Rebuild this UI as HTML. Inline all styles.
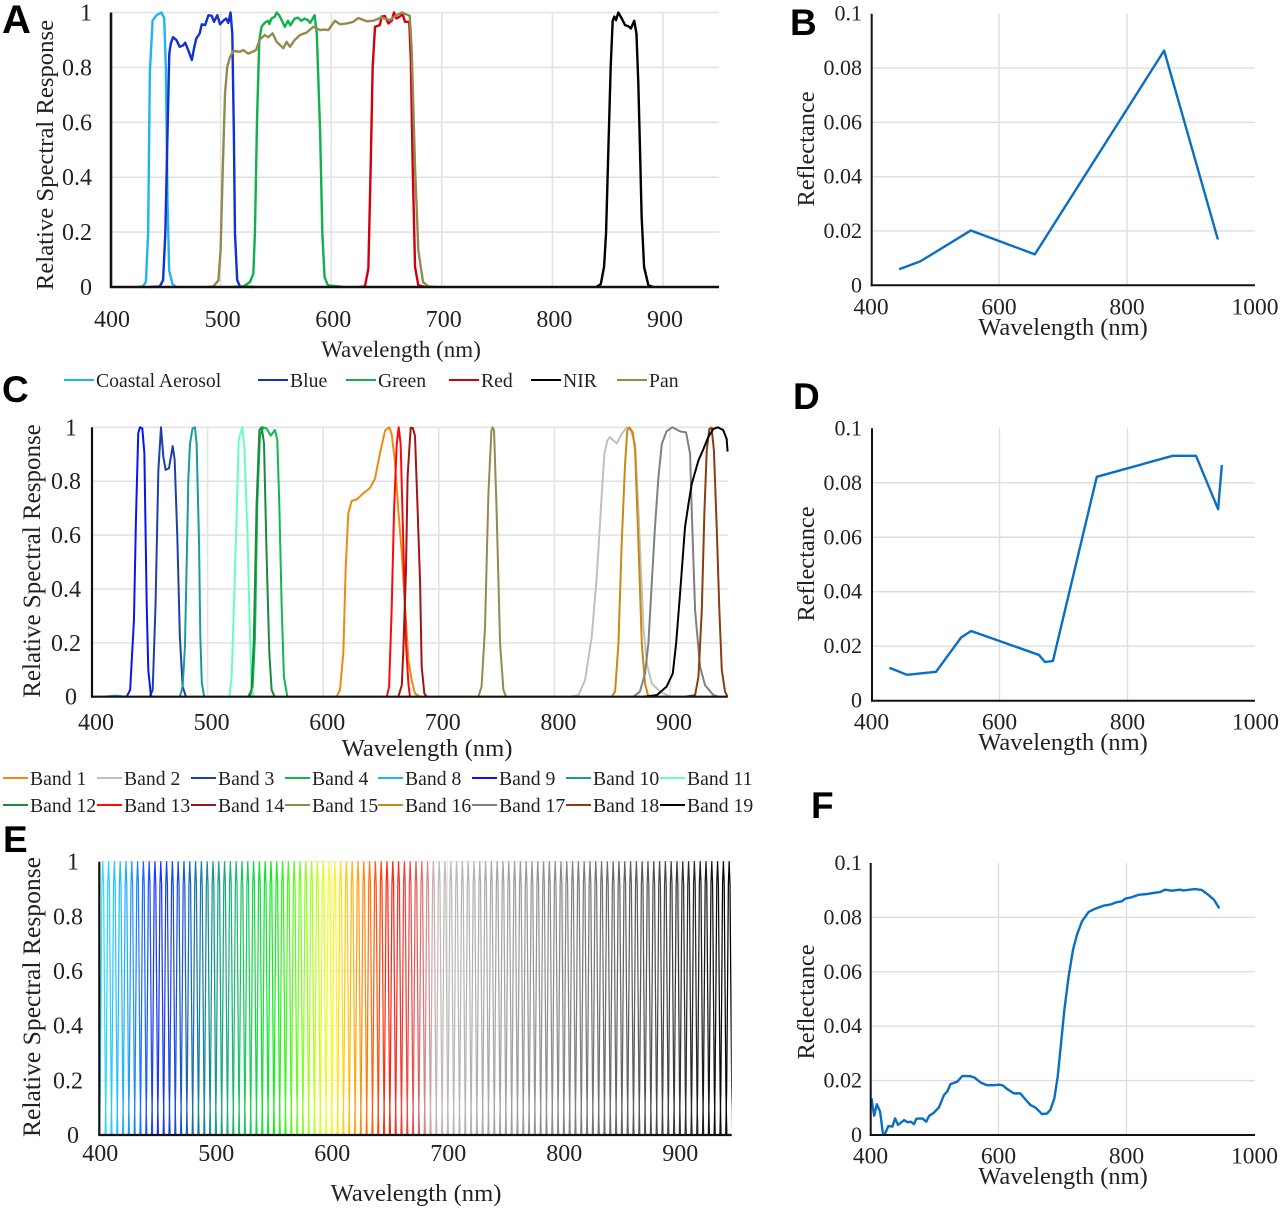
<!DOCTYPE html>
<html lang="en">
<head>
<meta charset="utf-8">
<title>Relative spectral response and reflectance panels</title>
<style>
html,body{margin:0;padding:0;background:#fff;}
svg{display:block;filter:blur(.35px);}
text{font-family:"Liberation Serif",serif;fill:#222;}
.letter{font-family:"Liberation Sans",sans-serif;font-weight:bold;font-size:37px;fill:#000;}
.leg{font-size:19.7px;}
.title{font-size:23px;}
.ty{font-size:24.7px;}
.tc{font-size:24.6px;}
.te{font-size:25.6px;}
.tx{font-size:24.4px;}
</style>
</head>
<body>
<svg id="figure" xmlns="http://www.w3.org/2000/svg" width="1280" height="1210" viewBox="0 0 1280 1210">
  <rect x="0" y="0" width="1280" height="1210" fill="#fff"/>
  <g id="plots"></g>

  <text class="letter" style="font-size:40px" x="2" y="33">A</text>
  <text class="letter" x="790" y="35">B</text>
  <text class="letter" x="2" y="402">C</text>
  <text class="letter" x="793" y="409">D</text>
  <text class="letter" x="3" y="852">E</text>
  <text class="letter" x="811" y="818">F</text>

  <text class="ty" text-anchor="middle" transform="translate(53,155) rotate(-90)">Relative Spectral Response</text>
  <text class="title" text-anchor="middle" x="401" y="357">Wavelength (nm)</text>
  <text class="tx" text-anchor="middle" transform="translate(814,149) rotate(-90)">Reflectance</text>
  <text class="tx" text-anchor="middle" x="1063" y="335">Wavelength (nm)</text>
  <text class="te" style="font-size:25px" text-anchor="middle" transform="translate(40,561) rotate(-90)">Relative Spectral Response</text>
  <text class="tc" text-anchor="middle" x="427" y="756">Wavelength (nm)</text>
  <text class="tx" text-anchor="middle" transform="translate(814,564) rotate(-90)">Reflectance</text>
  <text class="tx" text-anchor="middle" x="1063" y="750">Wavelength (nm)</text>
  <text class="te" text-anchor="middle" transform="translate(40,997) rotate(-90)">Relative Spectral Response</text>
  <text class="tc" text-anchor="middle" x="416" y="1201">Wavelength (nm)</text>
  <text class="tx" text-anchor="middle" transform="translate(814,1002) rotate(-90)">Reflectance</text>
  <text class="tx" text-anchor="middle" x="1063" y="1184">Wavelength (nm)</text>

  <g id="legends"></g>
</svg>
<script>
// ---------- Panel A: sensor bands (wavelength in nm, relative response) ----------
const aCoastalWl = [426,430,432.5,434.5,436,438.5,442,446.5,449,450.5,452,453.5,456.5,460];
const aCoastalVal = [0,.003,.02,.2,.78,.97,.99,1,.98,.8,.31,.06,.01,0];
const aBlueWl = [436,445,448,450,452,453.6,455,457,460,463,466,468,471,474,476,478,481,483,486,489,492,494,497,499.5,502.5,505,507,509,510.6,512,513,515,517.5,530];
const aBlueVal = [0,.002,.025,.195,.56,.85,.887,.91,.9,.875,.88,.89,.86,.827,.87,.905,.923,.957,.954,.99,.988,.966,.99,.957,.97,.978,.962,1,.923,.56,.195,.025,.002,0];
const aGreenWl = [511.5,520.5,526.6,529.6,531,533,535,537,540,543,544,546,549,550.7,553,556,558,561,563,567,570,573,576,579,581,585,587,588,590,592,594,597,611];
const aGreenVal = [0,.002,.018,.049,.195,.62,.9,.948,.963,.97,.958,.978,.985,1,.99,.966,.948,.97,.953,.978,.981,.97,.978,.972,.962,.99,.923,.8,.56,.195,.036,.006,0];
const aRedWl = [625.4,630.5,633.6,635.7,637.5,639.6,644,645.6,648.6,651.7,654.7,656.8,659,662,664.6,666.7,670.6,672,673.7,675.8,678.8,684.8];
const aRedVal = [0,.002,.067,.437,.802,.948,.954,.985,.987,.96,.97,1,.978,.985,.994,.966,.966,.826,.437,.073,.006,0];
const aNirWl = [839.5,843.7,846.7,848.5,850.6,852.7,854.5,856,857.5,859.6,862.7,865.7,868.7,871,874,876,877.7,879.2,880.7,882.9,886.8,891.3];
const aNirVal = [0,.01,.073,.195,.5,.802,.97,.985,.972,1,.978,.954,.95,.942,.97,.923,.74,.5,.255,.073,.006,0];
const aPanWl = [488,493.4,498,500,502,504,506,508.5,511.5,517.5,520.5,525,532,535.6,540,543,547,550.7,556.7,559.7,562.7,567,571.8,577.8,583.8,590,594.4,597.4,603.4,608,614,620,624.5,632,638,645.6,653,659,663.7,671,672.8,675.8,678.8,683,687.8,693.9];
const aPanVal = [0,.002,.024,.134,.437,.705,.802,.838,.86,.857,.863,.85,.863,.902,.918,.91,.924,.893,.87,.893,.875,.9,.918,.927,.948,.936,.938,.936,.97,.957,.96,.966,.98,.968,.97,.982,.972,.99,1,.988,.863,.437,.134,.018,.002,0];

// ---------- Panel C: sensor bands ----------
const cBand8Wl = [410,420,430];
const cBand8Val = [0,.004,0];
const cBand9Wl = [430,433,436.3,438,440,441.5,443.5,445.3,447.3,448.7,451,453];
const cBand9Val = [0,.025,.285,.656,.978,1,.996,.904,.347,.099,.002,0];
const cBand3Wl = [450,452.5,455,457.4,459.7,461.7,463.7,466.6,469.8,471.5,473.8,476,478.4,481.3];
const cBand3Val = [0,.025,.347,.84,1,.891,.842,.848,.93,.88,.594,.223,.037,0];
const cBand10Wl = [476,478.4,480.4,481.3,482.5,483.3,484.8,487,489,490.5,492.6,493.7,495,497];
const cBand10Val = [0,.037,.186,.371,.619,.804,.94,.996,1,.94,.569,.223,.05,.002];
const cBand11Wl = [518.8,520.8,523,525,526.9,530,531.8,534.4,536.7,538,540];
const cBand11Val = [0,.074,.371,.656,.953,1,.928,.619,.223,.037,0];
const cBand12Wl = [535.2,538,540,542.4,544.8,546.8,548.8,551,553.4,555.4,558];
const cBand12Val = [0,.025,.21,.718,.99,1,.94,.532,.16,.025,0];
const cBand4Wl = [536.7,539,541,543,545.3,548.2,551,554.6,558.3,560.3,562,564,566,569];
const cBand4Val = [0,.037,.223,.718,.97,1,.996,.969,.99,.953,.718,.347,.074,0];
const cBand1Wl = [611.6,614.5,617.4,619.4,621.7,624.6,629,634.7,640.5,644.8,649,653.5,657.2,659.2,662,665,668,670.8,673.7,676.5,679.4,683.8];
const cBand1Val = [0,.025,.161,.47,.68,.727,.732,.755,.775,.809,.901,.988,1,.975,.877,.691,.531,.333,.136,.062,.012,0];
const cBand13Wl = [655,657,659.2,661.3,663.6,665.3,667,669.3,671.6,673.7,675];
const cBand13Val = [0,.037,.321,.691,.938,1,.938,.568,.198,.049,0];
const cBand14Wl = [665,668,669.3,671.6,673,674.5,675.7,677.4,679.4,681.5,683.8,685.2,687.5,689.5];
const cBand14Val = [0,.043,.173,.469,.815,.92,.998,.998,.969,.716,.426,.111,.012,0];
const cBand15Wl = [734.2,737,740,742.9,745.5,746.6,747.8,750,753,755.9,758.2];
const cBand15Val = [0,.037,.259,.753,.988,1,.988,.691,.198,.025,0];
const cBand2Wl = [813.5,820.8,826.5,832.3,836.6,841,843.2,845.8,848,854,858.2,862.6,865.4,869.8,872.7,877,880,884.2,891.4,900];
const cBand2Val = [0,.006,.062,.222,.444,.753,.901,.951,.963,.94,.975,1,.994,.938,.691,.259,.123,.049,.019,0];
const cBand16Wl = [849.6,852.5,855.4,858.2,861,863,864.9,867.8,869.8,872.7,875.6,878.4,881.3];
const cBand16Val = [0,.019,.198,.568,.852,.988,1,.981,.914,.568,.198,.049,0];
const cBand17Wl = [868.3,874,878.4,881.3,884.2,887,890,892.9,897,902,908.7,913.9,917.4,918.8,921.7,926,930.3,937.5,941.9];
const cBand17Val = [0,.019,.086,.198,.42,.63,.815,.938,.985,1,.985,.981,.901,.691,.321,.111,.043,.006,0];
const cBand18Wl = [913,921.7,924.6,927.5,929.8,931.8,934,936,938,940.4,942.7,944.8,947.6,949.8];
const cBand18Val = [0,.006,.074,.321,.691,.914,.994,.998,.914,.63,.321,.099,.019,0];
const cBand19Wl = [877,888.5,897,902.4,905.3,908.7,913,916,918.8,924.6,929,933,937.5,941.3,946,949,949.8];
const cBand19Val = [0,.006,.037,.086,.198,.383,.63,.716,.79,.877,.92,.963,.994,1,.99,.957,.91];

// ---------- Panel E: narrow bands ----------
const eBandCenters = [403,408,413,418,423,428,433,438,443,448,453,458,463,468,473,478,483,488,493,498,503,508,513,518,523,528,533,538,543,548,553,558,563,568,573,578,583,588,593,598,603,608,613,618,623,628,633,638,643,648,653,658,663,668,673,678,683,688,693,698,703,708,713,718,723,728,733,738,743,748,753,758,763,768,773,778,783,788,793,798,803,808,813,818,823,828,833,838,843,848,853,858,863,868,873,878,883,888,893,898,903,908,913,918,923,928,933,938,943];
const eProfileOffsets = [-3,-2.2,-1.4,-.7,0,.7,1.4,2.2,3];
const eProfileValues = [0,.16,.55,.92,1,.92,.55,.16,0];

// ---------- Panels B, D, F: reflectance spectra ----------
const bWavelengths = [444,477,556,656,858,942];
const bReflectance = [.0059,.0088,.0202,.0114,.0864,.0169];
const dWavelengths = [428,455.4,500.8,540,555.6,661.6,671,683.5,752,870.6,907,941.6,947.4];
const dReflectance = [.0121,.0095,.0106,.0232,.0256,.0168,.0142,.0146,.0822,.0899,.0899,.0703,.0865];
const fWavelengths = [401.6,405.7,409.9,415,419.7,422.9,428,434.3,438.4,443,452.5,457.7,462.9,468,471.7,481,487.3,491.4,499,507,514.8,520,525,535.6,543.4,556.4,562.6,572,582,592.7,600.5,607,613.5,624,634,642,650,657.7,668,675.8,681,687.3,692.5,697.7,702.9,709.6,716.4,722.6,730.4,740.8,751,764,774.5,785,792.7,798,808,818.7,831.7,842,852.5,860,870.6,883.6,888.8,907,917.4,927.8,936.6,945];
const fReflectance = [.0135,.0071,.0113,.0086,0,.0006,.0033,.0031,.0061,.0037,.0055,.0047,.0049,.004,.006,.0061,.0049,.007,.0082,.0102,.0147,.016,.0187,.0196,.0217,.0216,.0211,.0193,.0183,.0183,.0185,.0182,.0169,.0153,.0153,.0131,.011,.0101,.0077,.0079,.0092,.0135,.0215,.0337,.046,.0583,.0681,.0736,.0785,.082,.0832,.0843,.0847,.0856,.0859,.0869,.0874,.0883,.0886,.089,.0893,.0902,.0898,.0902,.0899,.0904,.0901,.0883,.0865,.0833];

// ---------- Ticks ----------
const responseTicks = [0,.2,.4,.6,.8,1];
const responseTickLabels = ['0','0.2','0.4','0.6','0.8','1'];
const reflectanceTicks = [0,.02,.04,.06,.08,.1];
const reflectanceTickLabels = ['0','0.02','0.04','0.06','0.08','0.1'];
const wavelengthTicks = [400,500,600,700,800,900];
const wavelengthTickLabels = ['400','500','600','700','800','900'];
const coarseWavelengthTicks = [400,600,800,1000];
const coarseWavelengthTickLabels = ['400','600','800','1000'];

const NS = 'http://www.w3.org/2000/svg';
const plotsRoot = document.getElementById('plots');
const legendsRoot = document.getElementById('legends');

function svgEl(tag, parent, name) {
  const el = document.createElementNS(NS, tag);
  
  
  parent.appendChild(el);
  return el;
}

function makeAxes(p) {
  return {
    x: function (nm) { return p.x400 + (nm - 400) * p.k; },
    y: function (v) { return p.y0 - (v / p.vMax) * (p.y0 - p.yTop); }
  };
}

function drawFrame(p, axes, group) {
  p.yTicks.forEach(function (v, i) {
    const yy = axes.y(v);
    if (v > 0 && (p.topGrid || v < p.vMax)) {
      const g = svgEl('line', group, p.id + '-h-gridline-' + i);
      g.setAttribute('x1', p.axisX); g.setAttribute('x2', p.xEnd);
      g.setAttribute('y1', yy); g.setAttribute('y2', yy);
      g.setAttribute('stroke', p.gridColor); g.setAttribute('stroke-width', p.gridWidth);
    }
    const t = svgEl('text', group, p.id + '-y-tick-label-' + i);
    const shift = (p.intShift && Number.isInteger(v)) ? p.intShift : 0;
    t.setAttribute('x', p.yLabelX + shift);
    t.setAttribute('y', yy + p.yLabelDy);
    t.setAttribute('text-anchor', 'end');
    t.setAttribute('font-size', p.yTickSize || p.tickSize);
    t.textContent = p.yLabels[i];
  });
  p.xTicks.forEach(function (v, i) {
    const xx = axes.x(v);
    if (p.xGridSet.indexOf(v) >= 0) {
      const g = svgEl('line', group, p.id + '-v-gridline-' + i);
      g.setAttribute('x1', xx); g.setAttribute('x2', xx);
      g.setAttribute('y1', p.gridTop); g.setAttribute('y2', p.y0);
      g.setAttribute('stroke', p.gridColor); g.setAttribute('stroke-width', p.gridWidth);
    }
    const t = svgEl('text', group, p.id + '-x-tick-label-' + i);
    t.setAttribute('x', xx + p.xLabelDx);
    t.setAttribute('y', p.xLabelY);
    t.setAttribute('text-anchor', 'middle');
    t.setAttribute('font-size', p.tickSize);
    t.textContent = p.xLabels[i];
  });
}

function drawAxisLines(p, group) {
  const l = svgEl('line', group, p.id + '-y-axis-line');
  l.setAttribute('x1', p.axisX); l.setAttribute('x2', p.axisX);
  l.setAttribute('y1', p.gridTop); l.setAttribute('y2', p.y0 + 1);
  l.setAttribute('stroke', '#111'); l.setAttribute('stroke-width', p.axisWidth);
  const b = svgEl('line', group, p.id + '-x-axis-line');
  b.setAttribute('x1', p.axisX - 1); b.setAttribute('x2', p.xEnd);
  b.setAttribute('y1', p.y0); b.setAttribute('y2', p.y0);
  b.setAttribute('stroke', '#111'); b.setAttribute('stroke-width', p.axisWidth);
}

function drawSeries(axes, group, name, wl, val, color, width) {
  const line = svgEl('polyline', group, name);
  const pts = wl.map(function (w, i) { return axes.x(w).toFixed(2) + ',' + axes.y(val[i]).toFixed(2); });
  line.setAttribute('points', pts.join(' '));
  line.setAttribute('fill', 'none');
  line.setAttribute('stroke', color);
  line.setAttribute('stroke-width', width);
  line.setAttribute('stroke-linejoin', 'round');
}

const panelStyleResponse = {
  yTicks: responseTicks, yLabels: responseTickLabels, vMax: 1, topGrid: true,
  xTicks: wavelengthTicks, xLabels: wavelengthTickLabels, xGridSet: [500,600,700,800,900],
  gridColor: '#e3e3e3', gridWidth: 1.6, axisWidth: 2.6, tickSize: 24, yLabelDy: 8
};
const panelStyleReflect = {
  yTicks: reflectanceTicks, yLabels: reflectanceTickLabels, vMax: .1, topGrid: false,
  xTicks: coarseWavelengthTicks, xLabels: coarseWavelengthTickLabels, xGridSet: [600,800],
  gridColor: '#dddddd', gridWidth: 1.4, axisWidth: 2, tickSize: 23.5, yTickSize: 22, yLabelX: 862, yLabelDy: 7, xLabelDx: 0
};

const panelA = Object.assign({}, panelStyleResponse, {id:'panel-a', x400:110, k:1.106, axisX:111, xEnd:719, y0:287, yTop:12.5, gridTop:12.5, yLabelX:92, xLabelDx:2, xLabelY:327});
const panelC = Object.assign({}, panelStyleResponse, {id:'panel-c', x400:92, k:1.156, axisX:92, xEnd:727.7, y0:696.7, yTop:427.3, gridTop:427.3, yLabelX:81, intShift:-4, xLabelDx:4, xLabelY:730, axisWidth:2.2});
const panelE = Object.assign({}, panelStyleResponse, {id:'panel-e', x400:99.3, k:1.16, axisX:99.3, xEnd:731.7, y0:1135, yTop:861.7, gridTop:861.7, yLabelX:83, intShift:-4, xLabelDx:1, xLabelY:1161, gridColor:'#e6e6e6', gridWidth:1, axisWidth:2.2});
const panelB = Object.assign({}, panelStyleReflect, {id:'panel-b', x400:871, k:.64, axisX:871.7, xEnd:1255, y0:285.3, yTop:13.7, gridTop:13.7, xLabelY:314.5});
const panelD = Object.assign({}, panelStyleReflect, {id:'panel-d', x400:871.5, k:.64, axisX:872, xEnd:1255, y0:700.7, yTop:428.3, gridTop:428.3, xLabelY:729.5});
const panelF = Object.assign({}, panelStyleReflect, {id:'panel-f', x400:870.5, k:.64, axisX:870.7, xEnd:1255, y0:1135, yTop:863, gridTop:863, xLabelY:1163.5});

// Panel A
(function () {
  const group = svgEl('g', plotsRoot, 'panel-a-response-chart');
  const axes = makeAxes(panelA);
  drawFrame(panelA, axes, group);
  drawSeries(axes, group, 'series-coastal-aerosol', aCoastalWl, aCoastalVal, '#1fb4ee', 2.4);
  drawSeries(axes, group, 'series-blue', aBlueWl, aBlueVal, '#1030d0', 2.4);
  drawSeries(axes, group, 'series-green', aGreenWl, aGreenVal, '#10b04f', 2.4);
  drawSeries(axes, group, 'series-red', aRedWl, aRedVal, '#d00010', 2.4);
  drawSeries(axes, group, 'series-nir', aNirWl, aNirVal, '#000000', 2.4);
  drawSeries(axes, group, 'series-pan', aPanWl, aPanVal, '#948a50', 2.4);
  drawAxisLines(panelA, group);
})();

// Panel C
(function () {
  const group = svgEl('g', plotsRoot, 'panel-c-response-chart');
  const axes = makeAxes(panelC);
  drawFrame(panelC, axes, group);
  drawSeries(axes, group, 'series-band-8', cBand8Wl, cBand8Val, '#1fb4ee', 2);
  drawSeries(axes, group, 'series-band-1', cBand1Wl, cBand1Val, '#ee8a10', 2);
  drawSeries(axes, group, 'series-band-2', cBand2Wl, cBand2Val, '#c0c0c0', 2);
  drawSeries(axes, group, 'series-band-3', cBand3Wl, cBand3Val, '#1f3fa8', 2);
  drawSeries(axes, group, 'series-band-4', cBand4Wl, cBand4Val, '#10b84f', 2);
  drawSeries(axes, group, 'series-band-9', cBand9Wl, cBand9Val, '#0a14f0', 2);
  drawSeries(axes, group, 'series-band-10', cBand10Wl, cBand10Val, '#1a9a9a', 2);
  drawSeries(axes, group, 'series-band-11', cBand11Wl, cBand11Val, '#66ffc0', 2);
  drawSeries(axes, group, 'series-band-12', cBand12Wl, cBand12Val, '#1a8a3f', 2);
  drawSeries(axes, group, 'series-band-13', cBand13Wl, cBand13Val, '#ff0808', 2);
  drawSeries(axes, group, 'series-band-14', cBand14Wl, cBand14Val, '#a01515', 2);
  drawSeries(axes, group, 'series-band-15', cBand15Wl, cBand15Val, '#948a4f', 2);
  drawSeries(axes, group, 'series-band-16', cBand16Wl, cBand16Val, '#c88a10', 2);
  drawSeries(axes, group, 'series-band-17', cBand17Wl, cBand17Val, '#808080', 2);
  drawSeries(axes, group, 'series-band-18', cBand18Wl, cBand18Val, '#8a3d10', 2);
  drawSeries(axes, group, 'series-band-19', cBand19Wl, cBand19Val, '#000000', 2);
  drawAxisLines(panelC, group);
})();

// Panel E: colour of each narrow band comes from these style stops
const eColorStopNm = [403,425,450,475,495,520,550,575,600,625,650,675,690,710,800,880,943];
const eColorStopRgb = [[48,224,255],[32,168,255],[26,48,255],[26,96,192],[21,144,144],[32,192,112],[16,238,32],[128,255,32],[255,255,32],[255,154,16],[255,32,16],[224,96,96],[200,184,184],[184,184,184],[136,136,136],[80,80,80],[0,0,0]];
function eBandColor(nm) {
  let i = 0;
  while (i < eColorStopNm.length - 2 && nm > eColorStopNm[i + 1]) i++;
  const t = (nm - eColorStopNm[i]) / (eColorStopNm[i + 1] - eColorStopNm[i]);
  const c = eColorStopRgb[i].map(function (a, j) { return Math.round(a + (eColorStopRgb[i + 1][j] - a) * t); });
  return 'rgb(' + c.join(',') + ')';
}
(function () {
  const group = svgEl('g', plotsRoot, 'panel-e-response-chart');
  const axes = makeAxes(panelE);
  drawFrame(panelE, axes, group);
  const clip = svgEl('clipPath', group, 'panel-e-plot-clip');
  clip.setAttribute('id', 'panel-e-clip');
  const clipRect = svgEl('rect', clip, 'panel-e-plot-clip-area');
  clipRect.setAttribute('x', panelE.axisX);
  clipRect.setAttribute('y', panelE.yTop - 2);
  clipRect.setAttribute('width', panelE.xEnd - panelE.axisX);
  clipRect.setAttribute('height', panelE.y0 - panelE.yTop + 4);
  const combGroup = svgEl('g', group, 'panel-e-narrow-bands');
  combGroup.setAttribute('clip-path', 'url(#panel-e-clip)');
  eBandCenters.forEach(function (center, n) {
    const wl = eProfileOffsets.map(function (o) { return center + o; });
    drawSeries(axes, combGroup, 'narrow-band-' + (n + 1), wl, eProfileValues, eBandColor(center), 1.25);
  });
  drawAxisLines(panelE, group);
})();

// Panels B, D, F
[[panelB, bWavelengths, bReflectance], [panelD, dWavelengths, dReflectance], [panelF, fWavelengths, fReflectance]].forEach(function (cfg) {
  const p = cfg[0];
  const group = svgEl('g', plotsRoot, p.id + '-reflectance-chart');
  const axes = makeAxes(p);
  drawFrame(p, axes, group);
  drawSeries(axes, group, p.id + '-reflectance-line', cfg[1], cfg[2], '#0a6fc2', 2.4);
  drawAxisLines(p, group);
});

// Legends
const legendAEntries = ['Coastal Aerosol','Blue','Green','Red','NIR','Pan'];
const legendAColors = ['#1fb4ee','#1030d0','#10b04f','#d00010','#000000','#948a50'];
const legendAStarts = [64,258,346,449,531,617];
const legendCEntries = ['Band 1','Band 2','Band 3','Band 4','Band 8','Band 9','Band 10','Band 11','Band 12','Band 13','Band 14','Band 15','Band 16','Band 17','Band 18','Band 19'];
const legendCColors = ['#ee8a10','#c0c0c0','#1f3fa8','#10b84f','#1fb4ee','#0a14f0','#1a9a9a','#66ffc0','#1a8a3f','#ff0808','#a01515','#948a4f','#c88a10','#808080','#8a3d10','#000000'];
const legendCStarts = [3,97,191,285,378,472,566,660];

function legendEntry(parent, label, color, x0, y, lineLen) {
  const entry = svgEl('g', parent, 'legend-entry-' + label.toLowerCase().replace(/\s+/g, '-'));
  const sw = svgEl('line', entry, 'legend-swatch');
  sw.setAttribute('x1', x0); sw.setAttribute('x2', x0 + lineLen);
  sw.setAttribute('y1', y - 1); sw.setAttribute('y2', y - 1);
  sw.setAttribute('stroke', color); sw.setAttribute('stroke-width', 2);
  const t = svgEl('text', entry, 'legend-label');
  t.setAttribute('class', 'leg');
  t.setAttribute('x', x0 + lineLen + 2);
  t.setAttribute('y', y + 6);
  t.textContent = label;
}
legendAEntries.forEach(function (label, i) {
  legendEntry(legendsRoot, label, legendAColors[i], legendAStarts[i], 381, 30);
});
legendCEntries.forEach(function (label, i) {
  const col = i % 8;
  const rowY = i < 8 ? 779 : 806;
  legendEntry(legendsRoot, label, legendCColors[i], legendCStarts[col], rowY, 25);
});
</script>
</body>
</html>
